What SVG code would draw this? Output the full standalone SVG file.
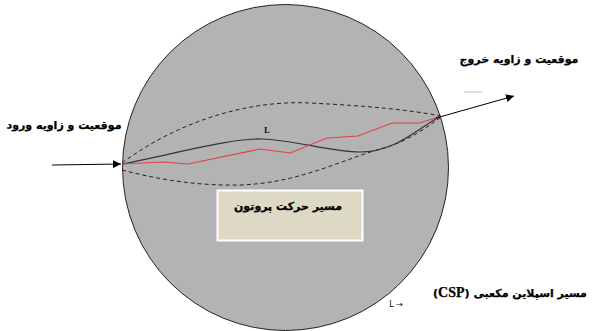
<svg xmlns="http://www.w3.org/2000/svg" width="595" height="331" viewBox="0 0 595 331">
<style>
.lbl{font-family:"DejaVu Sans",sans-serif;font-weight:bold;font-size:11px;fill:#000;stroke:#000;stroke-width:0.25;}
.dash{fill:none;stroke:#222;stroke-width:1;stroke-dasharray:4 3;}
.arr{stroke:#000;stroke-width:1;fill:none;}
</style>
<defs>
<marker id="ah" viewBox="0 0 10 10" refX="10" refY="5" markerWidth="8" markerHeight="8" markerUnits="userSpaceOnUse" orient="auto">
<path d="M0,0 L10,5 L0,10 z" fill="#000"/>
</marker>
</defs>
<rect width="595" height="331" fill="#fff"/>
<g id="sphere">
<circle cx="285.5" cy="167.5" r="163" fill="#b3b3b3" stroke="#222" stroke-width="1"/>
</g>
<g id="connectors">
<path class="dash" d="M122,163 C180,120 250,100 310,103 C370,106 410,110 441,116"/>
<path class="dash" d="M122,170 C160,180 200,186 240,185 C300,183 340,160 387,147 C410,140 430,125 441,117"/>
<path d="M122,164 C170,155 230,138 262,139 C295,140 330,152 360,152 C395,152 415,130 441,116" fill="none" stroke="#333" stroke-width="1.2"/>
<polyline points="122,164 163,162 188,164 260,149 290,153 327,138 358,136 392,123 420,123 441,116" fill="none" stroke="#e0404a" stroke-width="1.2"/>
<line class="arr" x1="52" y1="165" x2="121" y2="164" marker-end="url(#ah)"/>
<line class="arr" x1="436" y1="118" x2="514" y2="96" marker-end="url(#ah)"/>
<line x1="464" y1="92" x2="482" y2="92" stroke="#bbb" stroke-width="1"/>
</g>
<g id="curve-label">
<text x="267" y="133" font-family="Liberation Serif,serif" font-weight="bold" font-size="8" text-anchor="middle">L</text>
</g>
<g id="proton-box">
<rect x="217.5" y="190.5" width="145" height="50" fill="#ddd9c4" stroke="#fff" stroke-width="2"/>
<text class="lbl" x="288" y="210" text-anchor="middle" direction="rtl" font-size="12.5">مسیر حرکت پروتون</text>
</g>
<g id="entry-label">
<text class="lbl" x="64" y="129" text-anchor="middle" direction="rtl">موقعیت و زاویه ورود</text>
</g>
<g id="exit-label">
<text class="lbl" x="519" y="63" text-anchor="middle" direction="rtl">موقعیت و زاویه خروج</text>
</g>
<g id="csp-label">
<text class="lbl" x="510" y="297" text-anchor="middle" direction="rtl" font-size="12">مسیر اسپلاین مکعبی (<tspan font-family="Liberation Serif,serif" font-size="14">CSP</tspan>)</text>
</g>
<g id="legend">
<text x="396" y="307" font-family="DejaVu Sans,sans-serif" font-size="8" text-anchor="middle">L →</text>
</g>
</svg>
